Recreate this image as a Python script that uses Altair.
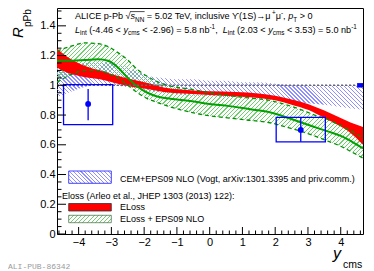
import math
import altair as alt
import numpy as np
import pandas as pd

# ---------------- data ----------------
cem_x = [-4.66, -4.2, -3.8, -3.4, -3.0, -2.6, -2.2, -1.8, -1.4, -1.0, -0.5, 0.0, 0.5, 1.0, 1.5, 2.0, 2.5, 3.0, 3.5, 4.0, 4.68]
cem_hi = [1.12, 1.14, 1.15, 1.16, 1.15, 1.13, 1.09, 1.06, 1.05, 1.04, 1.04, 1.03, 1.03, 1.02, 1.02, 1.01, 1.0, 1.0, 1.0, 1.0, 1.0]
cem_lo = [0.92, 0.96, 0.99, 1.0, 1.0, 0.99, 0.98, 0.96, 0.95, 0.94, 0.93, 0.93, 0.92, 0.92, 0.91, 0.90, 0.89, 0.88, 0.87, 0.855, 0.835]

el_x = [-4.66, -4.4, -4.1, -3.8, -3.35, -2.9, -2.4, -1.9, -1.4, -0.8, 0.0, 0.8, 1.5, 2.0, 2.5, 3.0, 3.5, 3.9, 4.3, 4.68]
el_hi = [1.25, 1.20, 1.16, 1.13, 1.10, 1.07, 1.04, 1.015, 0.985, 0.97, 0.96, 0.955, 0.945, 0.93, 0.905, 0.875, 0.83, 0.79, 0.75, 0.72]
el_lo = [1.12, 1.09, 1.07, 1.055, 1.04, 1.015, 0.99, 0.975, 0.955, 0.945, 0.935, 0.925, 0.915, 0.90, 0.87, 0.835, 0.78, 0.735, 0.68, 0.60]

eg_x = [-4.66, -4.2, -3.8, -3.4, -3.1, -2.8, -2.5, -2.2, -1.9, -1.6, -1.2, -0.6, 0.0, 0.6, 1.2, 1.8, 2.4, 2.8, 3.2, 3.6, 4.0, 4.35, 4.68]
eg_mid = [1.165, 1.165, 1.17, 1.175, 1.165, 1.12, 1.05, 0.99, 0.95, 0.925, 0.91, 0.895, 0.875, 0.86, 0.84, 0.82, 0.78, 0.75, 0.72, 0.69, 0.66, 0.62, 0.575]
eg_hi = [1.23, 1.265, 1.285, 1.28, 1.26, 1.22, 1.17, 1.105, 1.06, 1.025, 0.995, 0.975, 0.95, 0.93, 0.915, 0.90, 0.865, 0.835, 0.80, 0.77, 0.73, 0.69, 0.645]
eg_lo = [1.02, 1.075, 1.10, 1.10, 1.08, 1.05, 1.0, 0.95, 0.91, 0.885, 0.855, 0.82, 0.795, 0.78, 0.765, 0.75, 0.715, 0.69, 0.66, 0.625, 0.59, 0.55, 0.51]

pt_x = [-3.71, 2.78]
pt_r = [0.875, 0.70]
pt_stat_lo = [0.765, 0.62]
pt_stat_hi = [0.975, 0.785]
pt_box_xlo = [-4.46, 2.03]
pt_box_xhi = [-2.96, 3.53]
pt_sys_lo = [0.735, 0.62]
pt_sys_hi = [1.005, 0.785]

norm_x = [4.5, 4.68]
norm_y = [0.985, 1.015]
unity_x = [-4.66, 4.5]

x_major = [-4, -3, -2, -1, 0, 1, 2, 3, 4]
y_major = [0, 0.2, 0.4, 0.6, 0.8, 1, 1.2, 1.4]

# ---------------- layout constants ----------------
W, H = 306, 226
X_DOM = [-4.66, 4.68]
Y_DOM = [0, 1.52]
FONT = "Liberation Sans"
BLUE = "#0000ff"
RED = "#ff0000"
GREEN = "#00a000"
GREEN_D = "#009000"

XS = alt.Scale(domain=X_DOM, nice=False, zero=False)
YS = alt.Scale(domain=Y_DOM, nice=False, zero=False)
XAX = alt.Axis(values=x_major, ticks=False, domain=False, grid=False, labelFont=FONT,
               labelFontSize=11, labelColor="black", labelPadding=2, title=None,
               format="d", labelFlush=False, labelOverlap=False)
YAX = alt.Axis(values=y_major, ticks=False, domain=False, grid=False, labelFont=FONT,
               labelFontSize=11, labelColor="black", labelPadding=2, title=None,
               format="~g", labelFlush=False, labelOverlap=False)

ONE = pd.DataFrame({"d": [0]})
CLEAR = "rgba(255,255,255,0)"


def hatch(w, h, color, slash, period=2.6, lw=0.8):
    k = (1 / h + 1 / w) / (1 / h ** 2 + 1 / w ** 2)
    L = (w + h) / math.sqrt(2)
    n = max(1, int(round(L / period)))
    f = lw / period
    stops = []
    for i in range(n):
        a, b, c = i / n, (i + f) / n, (i + 1) / n
        stops += [alt.GradientStop(color=color, offset=a), alt.GradientStop(color=color, offset=b),
                  alt.GradientStop(color=CLEAR, offset=b), alt.GradientStop(color=CLEAR, offset=c)]
    if slash:
        return alt.LinearGradient(gradient="linear", stops=stops, x1=0, y1=0, x2=k / h, y2=k / w)
    return alt.LinearGradient(gradient="linear", stops=stops, x1=0, y1=1, x2=k / h, y2=1 - k / w)


ppu = H / (Y_DOM[1] - Y_DOM[0])
HB = "#8f8fff"
HG = "#70d070"
blue_grad = hatch(W, (max(cem_hi) - min(cem_lo)) * ppu, HB, slash=False, period=2.8, lw=0.8)
green_grad = hatch(W, (max(eg_hi) - min(eg_lo)) * ppu, HG, slash=True, period=3.0, lw=0.8)

cem = pd.DataFrame({"x": cem_x, "hi": cem_hi, "lo": cem_lo})
el = pd.DataFrame({"x": el_x, "hi": el_hi, "lo": el_lo})
eg = pd.DataFrame({"x": eg_x, "mid": eg_mid, "hi": eg_hi, "lo": eg_lo})
pts = pd.DataFrame({"x": pt_x, "r": pt_r, "slo": pt_stat_lo, "shi": pt_stat_hi,
                    "bxl": pt_box_xlo, "bxh": pt_box_xhi, "bl": pt_sys_lo, "bh": pt_sys_hi})
norm = pd.DataFrame({"x": [norm_x[0]], "x2": [norm_x[1]], "y": [norm_y[0]], "y2": [norm_y[1]]})
unity = pd.DataFrame({"x": [unity_x[0]], "x2": [unity_x[1]], "y": [1.0]})


def X(f):
    return alt.X(f, scale=XS, axis=XAX)


def Y(f):
    return alt.Y(f, scale=YS, axis=YAX)


layers = []
layers.append(alt.Chart(cem).mark_area(fill=blue_grad, interpolate="monotone", clip=True)
              .encode(x=X("x:Q"), y=Y("lo:Q"), y2="hi:Q"))
layers.append(alt.Chart(eg).mark_area(fill=green_grad, interpolate="monotone", clip=True)
              .encode(x=X("x:Q"), y=Y("lo:Q"), y2="hi:Q"))
layers.append(alt.Chart(el).mark_area(color=RED, interpolate="monotone", clip=True)
              .encode(x=X("x:Q"), y=Y("lo:Q"), y2="hi:Q"))
for col in ["hi", "lo"]:
    layers.append(alt.Chart(eg).mark_line(color=GREEN_D, strokeWidth=1.3, strokeDash=[4, 3],
                                          interpolate="monotone", clip=True)
                  .encode(x=X("x:Q"), y=Y(col + ":Q")))
layers.append(alt.Chart(eg).mark_line(color=GREEN, strokeWidth=2, interpolate="monotone", clip=True)
              .encode(x=X("x:Q"), y=Y("mid:Q")))
layers.append(alt.Chart(unity).mark_rule(color="#666666", strokeWidth=1.6, strokeDash=[2, 2])
              .encode(x=X("x:Q"), x2="x2:Q", y=Y("y:Q")))
layers.append(alt.Chart(norm).mark_rect(color=BLUE)
              .encode(x=X("x:Q"), x2="x2:Q", y=Y("y:Q"), y2="y2:Q"))
layers.append(alt.Chart(pts).mark_rect(fill=None, stroke=BLUE, strokeWidth=1.3, fillOpacity=0)
              .encode(x=X("bxl:Q"), x2="bxh:Q", y=Y("bl:Q"), y2="bh:Q"))
layers.append(alt.Chart(pts).mark_rule(color=BLUE, strokeWidth=1.3)
              .encode(x=X("x:Q"), y=Y("slo:Q"), y2="shi:Q"))
layers.append(alt.Chart(pts).mark_point(filled=True, shape="circle", size=34, color=BLUE, opacity=1)
              .encode(x=X("x:Q"), y=Y("r:Q")))

# ---------------- inside ticks (ROOT style) ----------------
x_minor = [round(v, 2) for v in np.arange(-4.6, 4.61, 0.2) if abs(v - round(v)) > 1e-6]
y_minor = [round(v, 3) for v in np.arange(0, 1.5001, 0.05) if abs(v * 5 - round(v * 5)) > 1e-6]
for vals, ln in [(x_major, 7), (x_minor, 3.5)]:
    layers.append(alt.Chart(pd.DataFrame({"v": vals})).mark_rule(color="black", strokeWidth=1)
                  .encode(x=X("v:Q"), y=alt.value(H), y2=alt.value(H - ln)))
for vals, ln in [(y_major, 9), (y_minor, 4.5)]:
    layers.append(alt.Chart(pd.DataFrame({"v": vals})).mark_rule(color="black", strokeWidth=1)
                  .encode(y=Y("v:Q"), x=alt.value(0), x2=alt.value(ln)))

# ---------------- text helpers ----------------
AW = {" ": 278, "!": 278, "(": 333, ")": 333, "+": 584, ",": 278, "-": 333, ".": 278, ":": 278,
      "<": 584, "=": 584, ">": 584, "A": 667, "B": 667, "C": 722, "D": 722, "E": 667, "F": 611,
      "G": 778, "H": 722, "I": 278, "J": 500, "K": 667, "L": 556, "M": 833, "N": 722, "O": 778,
      "P": 667, "Q": 778, "R": 722, "S": 667, "T": 611, "U": 722, "V": 667, "W": 944, "X": 667,
      "Y": 667, "Z": 611, "a": 556, "b": 556, "c": 500, "d": 556, "e": 556, "f": 278, "g": 556,
      "h": 556, "i": 222, "j": 222, "k": 500, "l": 222, "m": 833, "n": 556, "o": 556, "p": 556,
      "q": 556, "r": 333, "s": 500, "t": 278, "u": 556, "v": 500, "w": 722, "x": 500, "y": 500,
      "z": 500, "√": 549, "ϒ": 700, "→": 1000, "μ": 576}


def tw(s, fs):
    return sum(AW.get(ch, 556) for ch in s) / 1000.0 * fs


def txt(text, x, y, fs, style="normal", color="black", font=FONT, angle=0):
    return (alt.Chart(ONE).mark_text(text=text, fontSize=fs, fontStyle=style, font=font, color=color,
                                     align="left", baseline="alphabetic", angle=angle)
            .encode(x=alt.value(x), y=alt.value(y)))


def rich(segs, x0, y0, size):
    out = []
    x = x0
    spans = {}
    for idx, (text, kind) in enumerate(segs):
        fs, y, st = size, y0, "normal"
        if kind == "sub":
            fs, y = size * 0.7, y0 + 0.3 * size
        elif kind == "sup":
            fs, y = size * 0.7, y0 - 0.42 * size
        elif kind == "i":
            st = "italic"
        lead = len(text) - len(text.lstrip(" "))
        if text.strip():
            out.append(txt(text.strip(), x + tw(" " * lead, fs), y, fs, st))
        spans[idx] = (x, x + tw(text, fs))
        x += tw(text, fs)
    return out, spans


line1 = [("ALICE p-Pb ", "n"), ("√", "n"), ("s", "i"), ("NN", "sub"),
         (" = 5.02 TeV, inclusive ϒ(1S)→μ", "n"), ("+", "sup"), ("μ", "n"), ("-", "sup"),
         (", ", "n"), ("p", "i"), ("T", "sub"), (" > 0", "n")]
line2 = [("L", "i"), ("int", "sub"), (" (-4.46 < ", "n"), ("y", "i"), ("cms", "sub"),
         (" < -2.96) = 5.8 nb", "n"), ("-1", "sup"), (",  ", "n"), ("L", "i"), ("int", "sub"),
         (" (2.03 < ", "n"), ("y", "i"), ("cms", "sub"), (" < 3.53) = 5.0 nb", "n"), ("-1", "sup")]
l1, sp1 = rich(line1, 18, 11, 9.1)
l2, _ = rich(line2, 18, 24.5, 9.1)
layers += l1 + l2
# overbar of the square root
layers.append(alt.Chart(ONE).mark_rule(color="black", strokeWidth=0.7)
              .encode(x=alt.value(sp1[1][1] - 0.6), x2=alt.value(sp1[3][1] + 0.3),
                      y=alt.value(11 - 7.4)))

# legend
leg_blue = hatch(42.6, 12.3, HB, slash=False, period=2.8)
leg_green = hatch(42.6, 7.4, HG, slash=True, period=3.0)
layers.append(alt.Chart(ONE).mark_rect(fill=leg_blue, stroke="#4444ff", strokeWidth=1)
              .encode(x=alt.value(11.7), x2=alt.value(54.3), y=alt.value(163), y2=alt.value(175.3)))
layers.append(alt.Chart(ONE).mark_rect(fill=RED, stroke="#333333", strokeWidth=0.8)
              .encode(x=alt.value(11.7), x2=alt.value(54.3), y=alt.value(195.5), y2=alt.value(203)))
layers.append(alt.Chart(ONE).mark_rect(fill=leg_green, stroke="#557755", strokeWidth=0.8)
              .encode(x=alt.value(11.7), x2=alt.value(54.3), y=alt.value(207.3), y2=alt.value(214.7)))
layers.append(txt("CEM+EPS09 NLO (Vogt, arXiv:1301.3395 and priv.comm.)", 63, 174.3, 9))
layers.append(txt("Eloss (Arleo et al., JHEP 1303 (2013) 122):", 5, 191, 9))
layers.append(txt("ELoss", 63, 202.3, 9))
layers.append(txt("ELoss + EPS09 NLO", 63, 214.3, 9))

# axis titles
layers.append(txt("R", -34, 30, 15, "italic", angle=270))
layers.append(txt("pPb", -26, 19, 10, angle=270))
layers.append(txt("y", 276, 251, 16, "italic"))
layers.append(txt("cms", 286, 260, 10.5))
layers.append(txt("ALI-PUB-86342", -49, 261, 8, color="#9a9a9a", font="Liberation Mono"))

chart = (alt.layer(*layers)
         .properties(width=W, height=H, autosize=alt.AutoSizeParams(type="none"),
                     padding={"left": 49, "top": 0, "right": 3, "bottom": 37})
         .configure_view(stroke="black", strokeWidth=1))

chart.save("out.html", embed_options={"renderer": "svg", "actions": False})
